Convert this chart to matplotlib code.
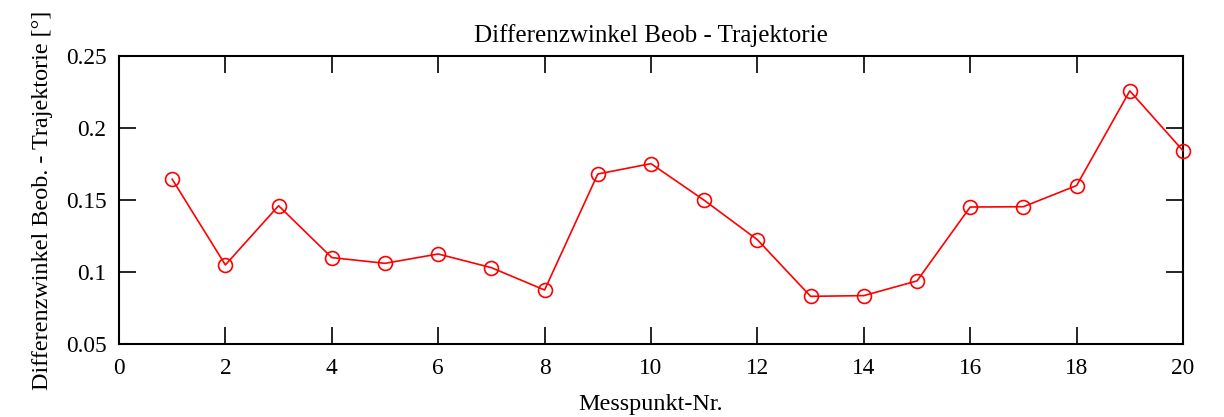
import numpy as np
import matplotlib
matplotlib.use('Agg')
import matplotlib.pyplot as plt
from matplotlib.ticker import MultipleLocator, FormatStrFormatter

plt.rcParams['font.family'] = ['Liberation Serif', 'DejaVu Serif']

# Messpunkte und Differenzwinkel
messpunkt = np.arange(1, 21)
diffwinkel = [0.1644, 0.1049, 0.1460, 0.1100, 0.1060, 0.1125, 0.1030, 0.0875,
              0.1680, 0.1752, 0.1498, 0.1224, 0.0831, 0.0836, 0.0938, 0.1451,
              0.1453, 0.1600, 0.2257, 0.1842]

fig = plt.figure(figsize=(12.24, 4.17), dpi=100)
ax = fig.add_axes([0.0972, 0.175, 0.8693, 0.691])

ax.plot(messpunkt, diffwinkel, color='red', lw=1.2, marker='o', markersize=10,
        markerfacecolor='none', markeredgecolor='red', markeredgewidth=1.2,
        clip_on=False, zorder=3)

ax.set_xlim(0, 20)
ax.set_ylim(0.05, 0.25)
ax.xaxis.set_major_locator(MultipleLocator(2))
ax.yaxis.set_major_locator(MultipleLocator(0.05))
ax.yaxis.set_major_formatter(FormatStrFormatter('%g'))

ax.tick_params(axis='both', which='major', direction='in', length=12, width=1.2,
               top=True, right=True, labelsize=16.8)
ax.tick_params(axis='x', pad=10)
ax.tick_params(axis='y', pad=9)

for sp in ax.spines.values():
    sp.set_linewidth(1.5)

ax.set_title('Differenzwinkel Beob - Trajektorie', fontsize=18, pad=10)
ax.set_xlabel('Messpunkt-Nr.', fontsize=17.4, labelpad=11)
ax.set_ylabel('Differenzwinkel Beob. - Trajektorie [°]', fontsize=17.4, labelpad=9)

plt.savefig('out.png', dpi=100)
plt.close(fig)
